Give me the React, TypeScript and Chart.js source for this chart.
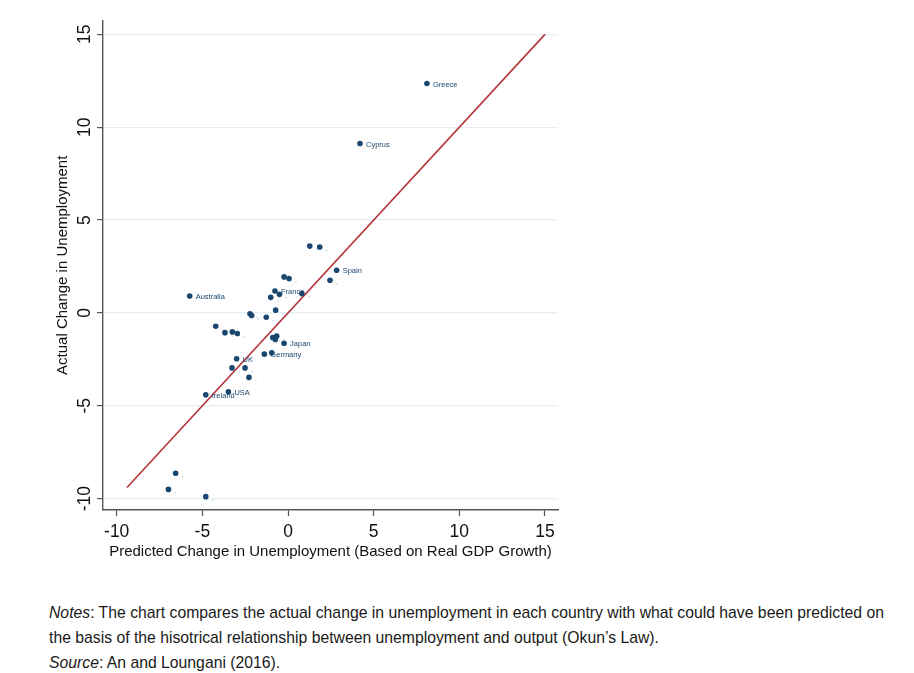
import React, { useEffect, useRef } from "react";
import { Chart, registerables } from "chart.js";

Chart.register(...registerables);

const countryLabels = [
  "Greece", "Cyprus", "", "", "Spain", "", "", "", "Australia", "France",
  "", "", "", "", "", "", "", "", "", "",
  "", "", "", "", "Japan", "Germany", "", "UK", "", "",
  "", "Ireland", "USA", "", "", "",
];
const predictedChange = [
  8.11, 4.2, 1.27, 1.85, 2.84, 2.45, -0.23, 0.06, -5.74, -0.76,
  -1.01, -0.5, 0.81, -2.22, -2.12, -1.27, -0.72, -4.22, -3.68, -3.25,
  -2.96, -0.89, -0.66, -0.74, -0.23, -1.38, -0.95, -3.0, -3.27, -2.51,
  -2.28, -4.8, -3.48, -6.56, -6.98, -4.8,
];
const actualChange = [
  12.35, 9.12, 3.6, 3.55, 2.3, 1.76, 1.94, 1.85, 0.91, 1.18,
  0.84, 1.0, 1.04, -0.04, -0.14, -0.23, 0.15, -0.72, -1.06, -1.02,
  -1.11, -1.32, -1.25, -1.43, -1.63, -2.22, -2.15, -2.47, -2.96, -2.96,
  -3.47, -4.41, -4.25, -8.63, -9.5, -9.89,
];
const fitLineEnds = [-9.4, 15];
const tickValues = [-10, -5, 0, 5, 10, 15];

const FONT = "'Liberation Sans', Arial, Helvetica, sans-serif";
const NAVY = "#1a476f";

export default function App() {
  const ref = useRef<HTMLCanvasElement | null>(null);

  useEffect(() => {
    if (!ref.current) return;

    const labelPlugin = {
      id: "pointLabels",
      afterDatasetsDraw(chart: any) {
        const { ctx, scales } = chart;
        const xs = scales.x;
        const ys = scales.y;
        ctx.save();
        ctx.font = `7.5px ${FONT}`;
        ctx.textBaseline = "middle";
        ctx.textAlign = "left";
        predictedChange.forEach((px, i) => {
          const x = xs.getPixelForValue(px);
          const y = ys.getPixelForValue(actualChange[i]);
          const lbl = countryLabels[i];
          if (lbl) {
            ctx.fillStyle = NAVY;
            ctx.fillText(lbl, x + 6, y + 1);
          } else {
            ctx.fillStyle = "rgba(26,71,111,0.45)";
            ctx.fillRect(x + 6.5, y + 3, 1, 1);
          }
        });
        ctx.restore();
      },
    };

    const yTickPlugin = {
      id: "yTicksRotated",
      afterDraw(chart: any) {
        const { ctx, scales } = chart;
        const ys = scales.y;
        ctx.save();
        ctx.font = `17.5px ${FONT}`;
        ctx.fillStyle = "#111";
        ctx.textAlign = "center";
        ctx.textBaseline = "middle";
        tickValues.forEach((v) => {
          const y = ys.getPixelForValue(v);
          ctx.save();
          ctx.translate(77, y);
          ctx.rotate(-Math.PI / 2);
          ctx.fillText(String(v), 0, 0);
          ctx.restore();
        });
        ctx.restore();
      },
    };

    const chart = new Chart(ref.current, {
      type: "scatter",
      data: {
        datasets: [
          {
            type: "line",
            data: fitLineEnds.map((v) => ({ x: v, y: v })),
            borderColor: "#b5353c",
            borderWidth: 1.6,
            pointRadius: 0,
            fill: false,
            order: 2,
          } as any,
          {
            type: "scatter",
            data: predictedChange.map((v, i) => ({ x: v, y: actualChange[i] })),
            backgroundColor: NAVY,
            borderColor: NAVY,
            borderWidth: 0,
            pointRadius: 2.8,
            order: 1,
          },
        ],
      },
      plugins: [labelPlugin, yTickPlugin],
      options: {
        animation: false,
        responsive: true,
        maintainAspectRatio: false,
        layout: { padding: { left: 0, right: 50, top: 12, bottom: 0 } },
        plugins: {
          legend: { display: false },
          tooltip: { enabled: false },
        },
        scales: {
          x: {
            type: "linear",
            min: -10.8,
            max: 15.76,
            afterBuildTicks: (s: any) => {
              s.ticks = tickValues.map((v) => ({ value: v }));
            },
            afterFit: (s: any) => {
              s.height = 64;
            },
            grid: {
              drawOnChartArea: false,
              drawTicks: true,
              tickLength: 6,
              tickColor: "#555",
              tickWidth: 1.2,
            },
            border: { color: "#555", width: 1.4 },
            ticks: {
              font: { family: FONT, size: 17.5 },
              color: "#111",
              padding: 6,
              maxRotation: 0,
              autoSkip: false,
            },
            title: {
              display: true,
              text: "Predicted Change in Unemployment (Based on Real GDP Growth)",
              font: { family: FONT, size: 15 },
              color: "#111",
              padding: { top: 0, bottom: 13 },
            },
          },
          y: {
            type: "linear",
            min: -10.61,
            max: 15.74,
            afterBuildTicks: (s: any) => {
              s.ticks = tickValues.map((v) => ({ value: v }));
            },
            afterFit: (s: any) => {
              s.width = 95;
            },
            grid: {
              color: "#e3eef0",
              lineWidth: 1.2,
              drawTicks: true,
              tickLength: 6,
              tickColor: "#555",
              tickWidth: 1.2,
            },
            border: { color: "#555", width: 1.4 },
            ticks: {
              font: { family: FONT, size: 16 },
              color: "rgba(0,0,0,0)",
              autoSkip: false,
            },
            title: {
              display: true,
              text: "Actual Change in Unemployment",
              font: { family: FONT, size: 15 },
              color: "#111",
              padding: { top: 46, bottom: 0 },
            },
          },
        },
      },
    });

    return () => chart.destroy();
  }, []);

  return (
    <div style={{ fontFamily: FONT }}>
      <div style={{ position: "relative", width: 600, height: 566 }}>
        <canvas ref={ref} />
      </div>
      <div
        style={{
          marginTop: 26,
          marginLeft: 41,
          fontSize: 15.75,
          lineHeight: "25px",
          color: "#1a1a1a",
          whiteSpace: "nowrap",
        }}
      >
        <i>Notes</i>: The chart compares the actual change in unemployment in each country with what could have been predicted on
        <br />
        the basis of the hisotrical relationship between unemployment and output (Okun’s Law).
        <br />
        <i>Source</i>: An and Loungani (2016).
      </div>
    </div>
  );
}
